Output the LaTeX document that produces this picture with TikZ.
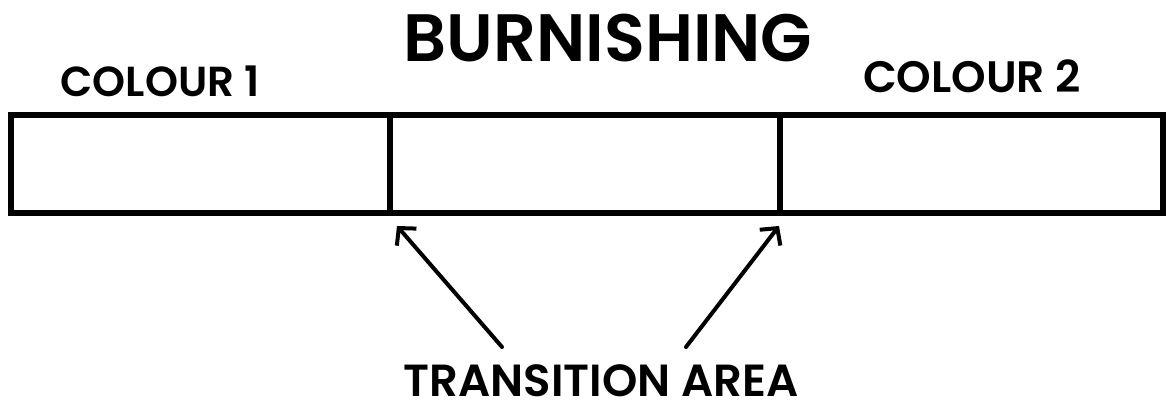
\documentclass[tikz,border=0pt]{standalone}
\usepackage{fontspec}
\setmainfont{Poppins}
\newfontfamily\semifont{Poppins SemiBold}
\usetikzlibrary{arrows.meta}
\tikzset{
  segbox/.style={draw, line width=6pt, minimum height=98pt, inner sep=0pt},
  lbl/.style={anchor=base, inner sep=0pt},
  pointer/.style={line width=4pt, line cap=round, -{Straight Barb[length=12pt,width=26pt,line width=4pt]}}
}
\begin{document}
\begin{tikzpicture}[x=1pt,y=1pt]
\useasboundingbox (0,0) rectangle (1169,-403);
% the strip
\node[segbox, minimum width=379pt] (seg1) at (200.5,-164) {};
\node[segbox, minimum width=390pt] (seg2) at (585,-164) {};
\node[segbox, minimum width=383pt] (seg3) at (971.5,-164) {};
% labels
\node[lbl, font=\semifont\fontsize{67}{67}\selectfont] (title) at (608,-62) {BURNISHING};
\node[lbl, font=\semifont\fontsize{42}{42}\selectfont] (col1) at (160,-97) {COLOUR 1};
\node[lbl, font=\semifont\fontsize{44}{44}\selectfont] (col2) at (972,-93) {COLOUR 2};
\node[lbl, font=\semifont\fontsize{45}{45}\selectfont] (trans) at (601,-396) {TRANSITION AREA};
% arrows
\coordinate (from1) at (502,-347);
\coordinate (from2) at (686,-347);
\coordinate (to1) at (397,-226);
\coordinate (to2) at (779,-226);
\draw[pointer] (from1) -- (to1);
\draw[pointer] (from2) -- (to2);
\end{tikzpicture}
\end{document}
